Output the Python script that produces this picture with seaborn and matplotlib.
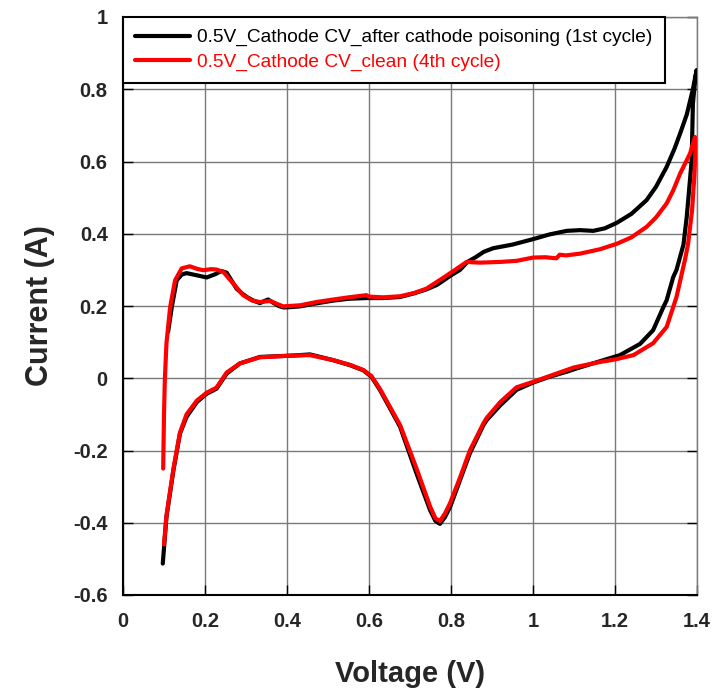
import numpy as np
import pandas as pd
import matplotlib
matplotlib.use("Agg")
import matplotlib.pyplot as plt
import seaborn as sns

# ---- data ----
label_black = "0.5V_Cathode CV_after cathode poisoning (1st cycle)"
label_red = "0.5V_Cathode CV_clean (4th cycle)"

black_v = [0.110, 0.119, 0.131, 0.143, 0.155, 0.180, 0.204, 0.225, 0.240, 0.253, 0.265, 0.277,
           0.290, 0.302, 0.318, 0.334, 0.345, 0.354, 0.365, 0.380, 0.391, 0.410, 0.432, 0.470,
           0.513, 0.550, 0.594, 0.635, 0.676, 0.710, 0.740, 0.765, 0.781, 0.800, 0.822, 0.840,
           0.860, 0.880, 0.903, 0.950, 1.000, 1.040, 1.082, 1.115, 1.147, 1.175, 1.204, 1.240,
           1.277, 1.300, 1.326, 1.345, 1.359, 1.375, 1.390, 1.399,
           1.395, 1.390, 1.387, 1.375, 1.367, 1.350, 1.342, 1.326, 1.318, 1.293, 1.261, 1.212,
           1.163, 1.106, 1.082, 1.040, 1.000, 0.960, 0.920, 0.887, 0.879, 0.846, 0.822, 0.798,
           0.785, 0.773, 0.762, 0.749, 0.716, 0.676, 0.667, 0.627, 0.606, 0.586, 0.554, 0.513,
           0.456, 0.430, 0.399, 0.334, 0.285, 0.253, 0.228, 0.204, 0.180, 0.155, 0.139, 0.123,
           0.106, 0.097]
black_i = [0.128, 0.197, 0.271, 0.287, 0.291, 0.285, 0.279, 0.288, 0.297, 0.292, 0.270, 0.248,
           0.235, 0.225, 0.215, 0.208, 0.214, 0.218, 0.210, 0.200, 0.196, 0.197, 0.199, 0.207,
           0.215, 0.220, 0.222, 0.222, 0.225, 0.235, 0.246, 0.258, 0.270, 0.285, 0.300, 0.322,
           0.335, 0.350, 0.360, 0.370, 0.385, 0.398, 0.408, 0.410, 0.408, 0.415, 0.430, 0.455,
           0.493, 0.530, 0.585, 0.635, 0.678, 0.730, 0.800, 0.853,
           0.820, 0.760, 0.603, 0.447, 0.370, 0.300, 0.280, 0.216, 0.197, 0.133, 0.095, 0.064,
           0.047, 0.027, 0.018, 0.004, -0.012, -0.032, -0.075, -0.116, -0.130, -0.208, -0.282, -0.356,
           -0.385, -0.403, -0.395, -0.365, -0.264, -0.135, -0.116, -0.033, 0.004, 0.022, 0.036, 0.050,
           0.066, 0.064, 0.062, 0.059, 0.041, 0.013, -0.029, -0.043, -0.066, -0.107, -0.153, -0.255,
           -0.384, -0.513]

red_v = [0.098, 0.100, 0.102, 0.106, 0.115, 0.127, 0.143, 0.163, 0.180, 0.196, 0.215, 0.228,
         0.245, 0.269, 0.293, 0.315, 0.334, 0.359, 0.375, 0.391, 0.432, 0.472, 0.513, 0.550,
         0.594, 0.600, 0.635, 0.676, 0.710, 0.740, 0.781, 0.810, 0.838, 0.870, 0.920, 0.960,
         1.000, 1.030, 1.057, 1.065, 1.080, 1.115, 1.163, 1.204, 1.240, 1.277, 1.300, 1.326,
         1.342, 1.359, 1.383, 1.395,
         1.397, 1.393, 1.388, 1.378, 1.371, 1.350, 1.326, 1.293, 1.245, 1.200, 1.163, 1.100,
         1.000, 0.960, 0.920, 0.887, 0.879, 0.846, 0.822, 0.798, 0.785, 0.773, 0.762, 0.749,
         0.716, 0.676, 0.627, 0.606, 0.586, 0.554, 0.513, 0.456, 0.399, 0.334, 0.285, 0.253,
         0.228, 0.204, 0.180, 0.155, 0.139, 0.123, 0.106, 0.100]
red_i = [-0.250, -0.100, -0.005, 0.097, 0.197, 0.271, 0.304, 0.310, 0.303, 0.299, 0.302, 0.301,
         0.294, 0.262, 0.230, 0.215, 0.211, 0.214, 0.206, 0.199, 0.202, 0.211, 0.218, 0.224,
         0.230, 0.226, 0.224, 0.227, 0.236, 0.248, 0.278, 0.300, 0.322, 0.320, 0.322, 0.325,
         0.334, 0.335, 0.332, 0.342, 0.340, 0.345, 0.357, 0.372, 0.390, 0.419, 0.445, 0.484,
         0.520, 0.567, 0.622, 0.668,
         0.640, 0.550, 0.465, 0.370, 0.330, 0.225, 0.142, 0.097, 0.064, 0.052, 0.045, 0.030,
         -0.010, -0.025, -0.066, -0.110, -0.125, -0.200, -0.275, -0.345, -0.375, -0.395, -0.388, -0.355,
         -0.250, -0.130, -0.030, 0.006, 0.023, 0.037, 0.050, 0.064, 0.062, 0.058, 0.041, 0.016,
         -0.026, -0.040, -0.062, -0.100, -0.150, -0.250, -0.380, -0.460]

x_ticks = [0, 0.2, 0.4, 0.6, 0.8, 1.0, 1.2, 1.4]
x_ticklabels = ["0", "0.2", "0.4", "0.6", "0.8", "1", "1.2", "1.4"]
y_ticks = [-0.6, -0.4, -0.2, 0, 0.2, 0.4, 0.6, 0.8, 1.0]
y_ticklabels = ["-0.6", "-0.4", "-0.2", "0", "0.2", "0.4", "0.6", "0.8", "1"]

df = pd.concat([
    pd.DataFrame({"V": black_v, "I": black_i, "series": label_black, "order": np.arange(len(black_v))}),
    pd.DataFrame({"V": red_v, "I": red_i, "series": label_red, "order": np.arange(len(red_v))}),
], ignore_index=True)

sns.set_style("white")
plt.rcParams["font.family"] = ["Liberation Sans", "DejaVu Sans"]

fig = plt.figure(figsize=(7.26, 6.92), dpi=100)
ax = fig.add_axes([123 / 726, 1 - 595 / 692, (697 - 123) / 726, (595 - 17) / 692])

palette = {label_black: "#000000", label_red: "#ff0000"}
sns.lineplot(data=df, x="V", y="I", hue="series", units="series", estimator=None,
             sort=False, palette=palette, linewidth=3.0, ax=ax, legend=True,
             hue_order=[label_black, label_red], zorder=3)

ax.set_xlim(0, 1.4)
ax.set_ylim(-0.6, 1.0)
ax.set_xticks(x_ticks)
ax.set_xticklabels(x_ticklabels)
ax.set_yticks(y_ticks)
ax.set_yticklabels(y_ticklabels)
for lab in ax.get_xticklabels() + ax.get_yticklabels():
    lab.set_fontweight("bold")
    lab.set_fontsize(14.5)

ax.grid(True, color="#7a7a7a", linewidth=1.0, zorder=0)
ax.set_axisbelow(True)
ax.tick_params(axis="both", direction="in", length=7, width=1.0, color="black")
ax.tick_params(axis="x", pad=12, bottom=True)
ax.tick_params(axis="y", pad=11, left=True, right=True)

for side in ["left", "bottom"]:
    ax.spines[side].set_color("black")
    ax.spines[side].set_linewidth(1.5)
for side in ["top", "right"]:
    ax.spines[side].set_color("#7a7a7a")
    ax.spines[side].set_linewidth(1.0)

ax.set_xlabel("Voltage (V)", fontsize=21, fontweight="bold", labelpad=21)
ax.set_ylabel("Current (A)", fontsize=22, fontweight="bold", labelpad=13)

leg = ax.legend(loc="upper left", bbox_to_anchor=(0, 1), borderaxespad=0,
                fontsize=13.8, frameon=True, fancybox=False, handlelength=2.9,
                handletextpad=0.36, borderpad=0.62, labelspacing=0.36)
leg.get_frame().set_edgecolor("black")
leg.get_frame().set_linewidth(1.5)
leg.get_frame().set_alpha(1.0)
for txt, col in zip(leg.get_texts(), ["#000000", "#ff0000"]):
    txt.set_color(col)
for h in leg.get_lines():
    h.set_linewidth(3.0)

fig.savefig("out.png", dpi=100)
